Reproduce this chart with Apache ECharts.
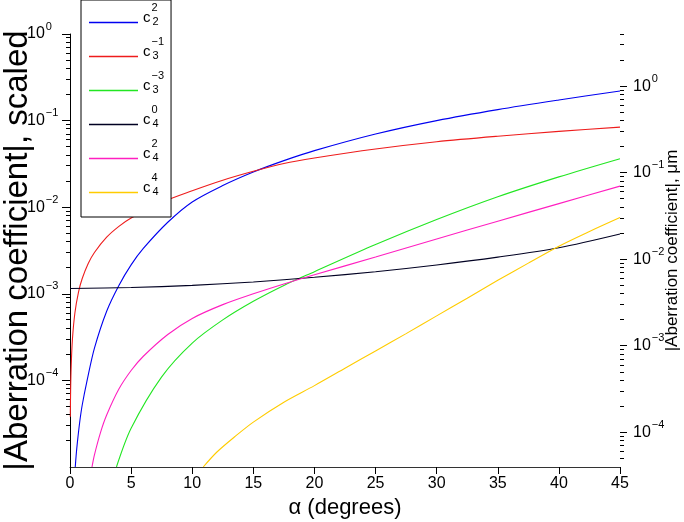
<!DOCTYPE html>
<html><head><meta charset="utf-8">
<script src="https://cdn.jsdelivr.net/npm/echarts@6/dist/echarts.min.js"></script>
<style>html,body{margin:0;padding:0;background:#fff}#c{width:684px;height:522px}</style>
</head><body><div id="c"></div>
<script>
// ---- data ----
const xTicks = [0, 5, 10, 15, 20, 25, 30, 35, 40, 45];
const leftDecades = [1e-5, 1e-4, 1e-3, 1e-2, 1e-1, 1];
const rightDecades = [1e-4, 1e-3, 1e-2, 1e-1, 1];

const alphaC22 = [0.43, 0.5, 0.6, 0.8, 1, 1.4, 2, 3, 4, 5, 6, 8, 10, 12.5, 15, 17.5, 20, 25, 30, 35, 40, 45];
const valC22   = [1e-5, 1.35e-5, 1.9e-5, 3.35e-5, 5.2e-5, 1e-4, 2.36e-4, 6.3e-4, 1.25e-3, 2.16e-3, 3.34e-3, 6.7e-3, 0.0115, 0.0178, 0.0255, 0.0345, 0.045, 0.07, 0.1, 0.134, 0.173, 0.22];

const alphaC3m1 = [0.025, 0.05, 0.1, 0.2, 0.4, 0.7, 1, 1.5, 2, 3, 4, 5, 7.5, 10, 12.5, 15, 17.5, 20, 25, 30, 35, 40, 45];
const valC3m1   = [3.8e-5, 7.5e-5, 1.5e-4, 3.0e-4, 6.0e-4, 1.05e-3, 1.5e-3, 2.25e-3, 3.0e-3, 4.5e-3, 6.0e-3, 7.5e-3, 0.0114, 0.0155, 0.0205, 0.026, 0.032, 0.037, 0.047, 0.057, 0.066, 0.075, 0.084];

const alphaC3m3 = [3.8, 5, 7.5, 10, 12.5, 15, 17.5, 20, 25, 30, 35, 40, 45];
const valC3m3   = [1e-5, 2.8e-5, 1.1e-4, 2.7e-4, 5.0e-4, 8.2e-4, 1.25e-3, 1.8e-3, 3.7e-3, 7.2e-3, 0.0132, 0.0224, 0.0363];

const alphaC40 = [0, 5, 10, 15, 20, 25, 30, 35, 40, 45];
const valC40   = [1.15e-3, 1.18e-3, 1.25e-3, 1.37e-3, 1.55e-3, 1.8e-3, 2.15e-3, 2.65e-3, 3.4e-3, 4.9e-3];

const alphaC42 = [1.8, 2, 2.5, 3, 4, 5, 6, 8, 10, 12.5, 15, 17.5, 20, 25, 30, 35, 40, 45];
const valC42   = [1e-5, 1.38e-5, 2.51e-5, 3.98e-5, 7.94e-5, 1.3e-4, 1.9e-4, 3.39e-4, 5.2e-4, 7.5e-4, 1.0e-3, 1.3e-3, 1.66e-3, 2.66e-3, 4.3e-3, 6.9e-3, 0.011, 0.0175];

const alphaC44 = [10.9, 12, 13.5, 15, 17.5, 20, 22.5, 25, 27.5, 30, 32.5, 35, 37.5, 40, 42.5, 45];
const valC44   = [1e-5, 1.48e-5, 2.25e-5, 3.3e-5, 5.6e-5, 8.7e-5, 1.38e-4, 2.19e-4, 3.47e-4, 5.56e-4, 8.9e-4, 1.43e-3, 2.26e-3, 3.55e-3, 5.25e-3, 7.6e-3];

const seriesNames  = ['c22', 'c3m1', 'c3m3', 'c40', 'c42', 'c44'];
const seriesSup    = ['2', '\u22121', '\u22123', '0', '2', '4'];
const seriesSub    = ['2', '3', '3', '4', '4', '4'];
const seriesColors = ['#0000f0', '#ee1c1c', '#22e622', '#000022', '#ff1fc0', '#ffcc00'];
const seriesAlpha  = [alphaC22, alphaC3m1, alphaC3m3, alphaC40, alphaC42, alphaC44];
const seriesVals   = [valC22, valC3m1, valC3m3, valC40, valC42, valC44];

const scaleRightOverLeft = 4; // right axis (µm) = left axis × 4

// ---- chart ----
const FONT = '"Liberation Sans", Arial, Helvetica, sans-serif';
const chart = echarts.init(document.getElementById('c'), null, {renderer: 'canvas'});

function decadeLabel(v) {
  const e = Math.log10(v);
  const r = Math.round(e);
  if (Math.abs(e - r) > 1e-6) return '';
  return '{b|10}{e|' + (r < 0 ? '\u2212' + (-r) : String(r)) + '}';
}
const labelRich = {
  b: {fontSize: 16, fontFamily: FONT, color: '#000', lineHeight: 18},
  e: {fontSize: 11, fontFamily: FONT, color: '#000', lineHeight: 12, padding: [0, 0, 15, 1]}
};

const minorLeft = [];
for (let d = -5; d < 0; d++) for (let k = 2; k <= 9; k++) minorLeft.push(k * Math.pow(10, d));
const minorRight = [];
for (let d = -5; d <= 0; d++) for (let k = 2; k <= 9; k++) {
  const v = k * Math.pow(10, d);
  if (v > 1e-5 * scaleRightOverLeft * 1.0001 && v <= scaleRightOverLeft * 1.0001) minorRight.push(v);
}

function tickSeries(values, yIndex, xVal, dir, len) {
  return {
    type: 'custom', xAxisIndex: 0, yAxisIndex: yIndex, silent: true, clip: false, z: 4,
    data: values.map(v => [xVal, v]),
    renderItem: function (params, api) {
      const p = api.coord([api.value(0), api.value(1)]);
      const y = Math.round(p[1] - 0.5) + 0.5;
      const x = Math.round(p[0]);
      return {type: 'line', shape: {x1: x, y1: y, x2: x + dir * len, y2: y},
              style: {stroke: '#000', lineWidth: 1}};
    }
  };
}

const lineSeries = seriesNames.map((n, i) => ({
  name: n, type: 'line', xAxisIndex: 0, yAxisIndex: 0,
  data: seriesAlpha[i].map((a, j) => [a, seriesVals[i][j]]),
  symbol: 'none', smooth: 0.3, clip: true,
  lineStyle: {color: seriesColors[i], width: 1.1},
  itemStyle: {color: seriesColors[i]},
  z: 3
}));

const option = {
  animation: false,
  backgroundColor: '#fff',
  grid: {left: 70, right: 64, top: 34, bottom: 55, containLabel: false, outerBoundsMode: 'none'},
  legend: {
    data: seriesNames, orient: 'vertical', left: 81, top: 0,
    padding: [2, 7, 4, 8], itemGap: -7, itemWidth: 49, itemHeight: 1.3, icon: 'rect',
    borderColor: '#000', borderWidth: 1, backgroundColor: '#fff',
    selectedMode: false,
    formatter: function (name) {
      const i = seriesNames.indexOf(name);
      return '{c|c}{sup|' + seriesSup[i] + '}{sub|' + seriesSub[i] + '}';
    },
    textStyle: {
      fontFamily: FONT, color: '#000',
      rich: {
        c: {fontSize: 15, fontFamily: FONT, color: '#000', lineHeight: 18, padding: [2, 1, 12, 0]},
        sup: {fontSize: 11, fontFamily: FONT, color: '#000', lineHeight: 12, padding: [0, 0, 30, 0], width: 1, align: 'left'},
        sub: {fontSize: 11, fontFamily: FONT, color: '#000', lineHeight: 12, padding: [14, 0, 16, 0]}
      }
    }
  },
  xAxis: [{
    type: 'value', min: 0, max: 45, interval: 5,
    name: '\u03b1 (degrees)', nameLocation: 'middle', nameGap: 30, nameMoveOverlap: false,
    nameTextStyle: {fontSize: 22, fontFamily: FONT, color: '#000'},
    axisLine: {show: true, lineStyle: {color: '#333', width: 1}},
    axisTick: {show: true, inside: false, length: 7, lineStyle: {color: '#000'}},
    axisLabel: {fontSize: 16, fontFamily: FONT, color: '#000', margin: 9,
                formatter: v => (xTicks.indexOf(v) >= 0 ? String(v) : '')},
    splitLine: {show: false}
  }],
  yAxis: [{
    type: 'log', logBase: 10, min: leftDecades[0], max: leftDecades[leftDecades.length - 1], splitNumber: 5,
    position: 'left',
    name: '|Aberration coefficient|, scaled', nameLocation: 'middle', nameGap: 36, nameRotate: 90,
    nameMoveOverlap: false,
    nameTextStyle: {fontSize: 33, fontFamily: FONT, color: '#000'},
    axisLine: {show: true, lineStyle: {color: '#000', width: 1}},
    axisTick: {show: true, inside: false, length: 8, lineStyle: {color: '#000'}},
    axisLabel: {margin: 43, align: 'left', formatter: decadeLabel, rich: labelRich, showMinLabel: false},
    splitLine: {show: false}
  }, {
    type: 'log', logBase: 10, min: leftDecades[0] * scaleRightOverLeft,
    max: leftDecades[leftDecades.length - 1] * scaleRightOverLeft, splitNumber: 5,
    position: 'right',
    name: '|Aberration coefficient|, \u03bcm', nameLocation: 'middle', nameGap: 44, nameRotate: 90,
    nameMoveOverlap: false,
    nameTextStyle: {fontSize: 17, fontFamily: FONT, color: '#000'},
    axisLine: {show: false},
    axisTick: {show: false},
    axisLabel: {margin: 13, formatter: decadeLabel, rich: labelRich},
    splitLine: {show: false}
  }],
  series: lineSeries.concat([
    tickSeries(minorLeft, 0, 0, -1, 4),
    tickSeries(rightDecades, 1, 45, 1, 7),
    tickSeries(minorRight, 1, 45, 1, 4)
  ])
};
chart.setOption(option);
</script>
</body></html>
